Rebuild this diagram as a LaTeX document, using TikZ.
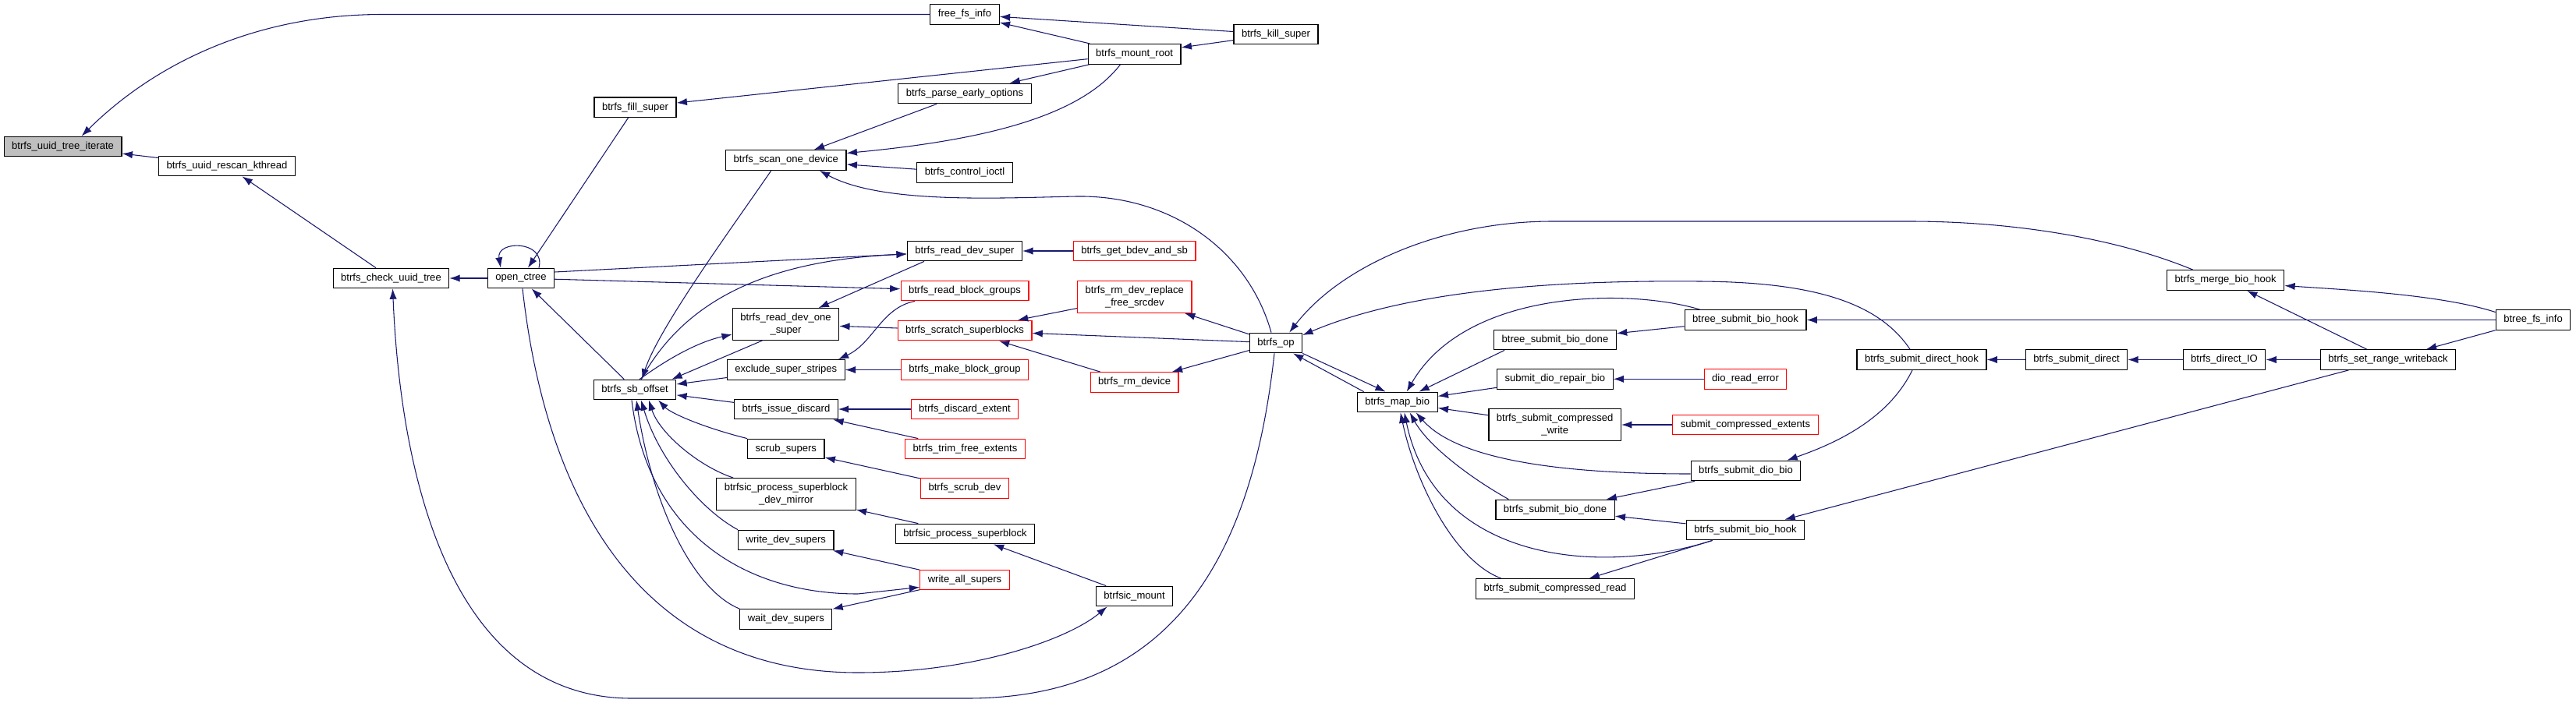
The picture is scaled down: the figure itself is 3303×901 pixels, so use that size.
\documentclass[tikz,border=0pt]{standalone}
\usepackage{fontspec}
\setmainfont{Liberation Sans}
\usetikzlibrary{arrows.meta,calc}
\definecolor{callblue}{RGB}{25,25,112}
\definecolor{boxred}{RGB}{255,0,0}
\definecolor{curgray}{RGB}{191,191,191}

\begin{document}
\begin{tikzpicture}[x=0.75pt, y=-0.75pt, every node/.style={font=\fontsize{9.8}{11.5}\selectfont}, >={Latex[length=10pt,width=7pt]},
	fn/.style={draw=black, fill=white, line width=0.9pt, inner xsep=7.5pt, inner ysep=1pt, minimum height=19.2pt},
	fnred/.style={fn, draw=boxred},
	fncur/.style={fn, fill=curgray},
	fntwo/.style={align=center, minimum height=30.5pt},
	calls/.style={draw=callblue, line width=0.8pt, ->}]
	\useasboundingbox (0,0) rectangle (3303,901);
	\node[fncur] (iterate) at (80.6,188) {btrfs\_uuid\_tree\_iterate};
	\node[fn] (rescan) at (291,213) {btrfs\_uuid\_rescan\_kthread};
	\node[fn] (checkuuid) at (501.5,357) {btrfs\_check\_uuid\_tree};
	\node[fn] (openctree) at (668,357) {open\_ctree};
	\node[fn] (fillsuper) at (814.5,137.7) {btrfs\_fill\_super};
	\node[fn] (sboffset) at (814,500) {btrfs\_sb\_offset};
	\node[fn] (scanone) at (1007.8,205.5) {btrfs\_scan\_one\_device};
	\node[fn, fntwo] (rdos) at (1007.5,416) {btrfs\_read\_dev\_one\\\_super};
	\node[fn] (exclude) at (1007.8,474.5) {exclude\_super\_stripes};
	\node[fn] (issuediscard) at (1008,525) {btrfs\_issue\_discard};
	\node[fn] (scrubsupers) at (1007.8,576) {scrub\_supers};
	\node[fn, fntwo] (devmirror) at (1008,634) {btrfsic\_process\_superblock\\\_dev\_mirror};
	\node[fn] (writedev) at (1007.8,693) {write\_dev\_supers};
	\node[fn] (waitdev) at (1007.8,794.5) {wait\_dev\_supers};
	\node[fn] (freefs) at (1237,18.5) {free\_fs\_info};
	\node[fn] (killsuper) at (1636,44) {btrfs\_kill\_super};
	\node[fn] (mountroot) at (1454.6,69.3) {btrfs\_mount\_root};
	\node[fn] (parseearly) at (1237,120) {btrfs\_parse\_early\_options};
	\node[fn] (controlioctl) at (1237,221.5) {btrfs\_control\_ioctl};
	\node[fn] (readdevsuper) at (1237,322) {btrfs\_read\_dev\_super};
	\node[fnred] (getbdev) at (1454.6,322) {btrfs\_get\_bdev\_and\_sb};
	\node[fnred] (readbg) at (1237,373) {btrfs\_read\_block\_groups};
	\node[fnred, fntwo] (rmreplace) at (1454.8,381) {btrfs\_rm\_dev\_replace\\\_free\_srcdev};
	\node[fnred] (scratch) at (1237,424) {btrfs\_scratch\_superblocks};
	\node[fn] (btrfsop) at (1636,440) {btrfs\_op};
	\node[fnred] (makebg) at (1237,474.5) {btrfs\_make\_block\_group};
	\node[fnred] (rmdevice) at (1454.6,490.5) {btrfs\_rm\_device};
	\node[fnred] (discardext) at (1237,525) {btrfs\_discard\_extent};
	\node[fnred] (trimfree) at (1237.5,576) {btrfs\_trim\_free\_extents};
	\node[fnred] (scrubdev) at (1237,626.5) {btrfs\_scrub\_dev};
	\node[fn] (processsb) at (1237.5,685) {btrfsic\_process\_superblock};
	\node[fnred] (writeall) at (1237,744) {write\_all\_supers};
	\node[fn] (sicmount) at (1454.6,765) {btrfsic\_mount};
	\node[fn] (mapbio) at (1791.7,516) {btrfs\_map\_bio};
	\node[fn] (btreedone) at (1994,436) {btree\_submit\_bio\_done};
	\node[fn] (diorepair) at (1993.8,486.3) {submit\_dio\_repair\_bio};
	\node[fn, fntwo] (compwrite) at (1993.7,545) {btrfs\_submit\_compressed\\\_write};
	\node[fn] (biodone) at (1994,654) {btrfs\_submit\_bio\_done};
	\node[fn] (compread) at (1994,755.5) {btrfs\_submit\_compressed\_read};
	\node[fn] (btreehook) at (2238,410.5) {btree\_submit\_bio\_hook};
	\node[fnred] (readerror) at (2238,486.3) {dio\_read\_error};
	\node[fnred] (compext) at (2238,545) {submit\_compressed\_extents};
	\node[fn] (diobio) at (2238.5,604) {btrfs\_submit\_dio\_bio};
	\node[fn] (biohook) at (2238,680) {btrfs\_submit\_bio\_hook};
	\node[fn] (directhook) at (2464,461.5) {btrfs\_submit\_direct\_hook};
	\node[fn] (submitdirect) at (2662.5,461.5) {btrfs\_submit\_direct};
	\node[fn] (directio) at (2852,461.5) {btrfs\_direct\_IO};
	\node[fn] (setrange) at (3062,461.5) {btrfs\_set\_range\_writeback};
	\node[fn] (mergehook) at (2853.7,359.5) {btrfs\_merge\_bio\_hook};
	\node[fn] (btreefsinfo) at (3248,410.5) {btree\_fs\_info};

	\foreach \a/\b in {rescan/iterate, checkuuid/rescan, openctree/checkuuid, fillsuper/openctree, mountroot/fillsuper,
		openctree/readbg, sboffset/openctree, scratch/rdos, exclude/sboffset, makebg/exclude,
		issuediscard/sboffset, discardext/issuediscard, trimfree/issuediscard, scrubdev/scrubsupers, processsb/devmirror,
		writeall/writedev, writeall/waitdev, sicmount/processsb, parseearly/scanone, controlioctl/scanone,
		mountroot/parseearly, mountroot/freefs, killsuper/freefs, killsuper/mountroot, getbdev/readdevsuper,
		btrfsop/rmreplace, btrfsop/scratch, rmreplace/scratch, btrfsop/rmdevice, rmdevice/scratch,
		btreehook/btreedone, btreefsinfo/btreehook, diorepair/mapbio, readerror/diorepair, compwrite/mapbio,
		compext/compwrite, diobio/biodone, biohook/biodone, setrange/biohook, submitdirect/directhook,
		directio/submitdirect, setrange/directio, btreefsinfo/setrange, setrange/mergehook}
		{\draw[calls] (\a) -- (\b);}

	\draw[calls] (freefs) -- (490,18.5) .. controls (330,18.5) and (200,80) .. ($(iterate.north)+(24,0)$);
	\draw[calls] ($(openctree.north)+(23,0)$) .. controls (700,308) and (636,308) .. ($(openctree.north)+(-26,0)$);
	\draw[calls] ($(openctree.east)+(0,-8)$) -- (readdevsuper);
	\draw[calls] ($(readdevsuper.south)+(-52,0)$) -- ($(rdos.north)+(42,0)$);
	\draw[calls] ($(sboffset.north)+(8,0)$) .. controls (870,400) and (960,335) .. ($(readdevsuper.west)+(0,4)$);
	\draw[calls] ($(scanone.south)+(-19,0)$) .. controls (940,290) and (845,420) .. ($(sboffset.north)+(9,0)$);
	\draw[calls] ($(sboffset.north)+(6,0)$) .. controls (850,465) and (890,440) .. ($(rdos.west)+(0,13)$);
	\draw[calls] ($(rdos.south)+(-30,0)$) -- ($(sboffset.north east)+(-6,0)$);
	\draw[calls] ($(readbg.south)+(-64,0)$) .. controls (1130,395) and (1120,440) .. ($(exclude.north)+(67,0)$);
	\draw[calls] (scrubsupers.north west) .. controls (900,548) and (860,530) .. ($(sboffset.south)+(30,0)$);
	\draw[calls] ($(devmirror.north west)+(22,0)$) .. controls (895,598) and (845,555) .. ($(sboffset.south)+(18,0)$);
	\draw[calls] (writedev.north west) .. controls (900,655) and (845,590) .. ($(sboffset.south)+(8,0)$);
	\draw[calls] (waitdev.north west) .. controls (885,755) and (835,640) .. ($(sboffset.south)+(2,0)$);
	\draw[calls] ($(sboffset.south)+(-4,0)$) .. controls (830,680) and (950,762) .. (1100,762) -- ($(writeall.south west)+(0,-4)$);
	\draw[calls] ($(openctree.south)+(2,0)$) .. controls (700,640) and (820,863) .. (1100,863) .. controls (1250,863) and (1370,820) .. ($(sicmount.south)+(-35,0)$);
	\draw[calls] ($(btrfsop.south)+(-2,0)$) .. controls (1605,720) and (1500,896) .. (1240,896) -- (810,896) .. controls (590,896) and (515,640) .. ($(checkuuid.south)+(2,0)$);
	\draw[calls] ($(btrfsop.north)+(-6,0)$) .. controls (1600,320) and (1500,250) .. (1380,252) .. controls (1280,254) and (1130,262) .. ($(scanone.south)+(43,0)$);
	\draw[calls] ($(mountroot.south)+(-18,0)$) .. controls (1385,150) and (1260,180) .. ($(scanone.east)+(0,-9)$);
	\draw[calls] ($(mergehook.north)+(-42,0)$) .. controls (2700,300) and (2560,284) .. (2450,284) -- (1990,284) .. controls (1850,284) and (1720,340) .. ($(btrfsop.north east)+(-17,0)$);
	\draw[calls] ($(directhook.north)+(-15,0)$) .. controls (2410,390) and (2330,362) .. (2180,361) .. controls (1980,359) and (1800,375) .. ($(btrfsop.east)+(0,-10)$);
	\draw[calls] (btrfsop.south east) -- ($(mapbio.north)+(-15,0)$);
	\draw[calls] ($(mapbio.north west)+(9,0)$) -- ($(btrfsop.south)+(22,0)$);
	\draw[calls] ($(btreehook.north west)+(20,0)$) .. controls (2090,370) and (1880,370) .. ($(mapbio.north)+(12,0)$);
	\draw[calls] ($(btreedone.south west)+(14,0)$) -- (mapbio);
	\draw[calls] ($(diobio.west)+(0,4)$) .. controls (1960,608) and (1860,580) .. ($(mapbio.south)+(24,0)$);
	\draw[calls] ($(directhook.south)+(-12,0)$) .. controls (2420,540) and (2350,570) .. ($(diobio.north east)+(-18,0)$);
	\draw[calls] ($(biodone.north west)+(17,0)$) .. controls (1880,610) and (1830,570) .. ($(mapbio.south)+(16,0)$);
	\draw[calls] ($(biohook.south west)+(34,0)$) .. controls (2050,740) and (1840,720) .. ($(mapbio.south)+(9,0)$);
	\draw[calls] ($(biohook.south west)+(34,0)$) -- (compread);
	\draw[calls] ($(compread.north west)+(33,0)$) .. controls (1865,720) and (1815,620) .. ($(mapbio.south)+(4,0)$);
	\draw[calls] ($(btreefsinfo.west)+(0,-10)$) .. controls (3130,378) and (3010,372) .. ($(mergehook.east)+(0,7)$);
\end{tikzpicture}
\end{document}
